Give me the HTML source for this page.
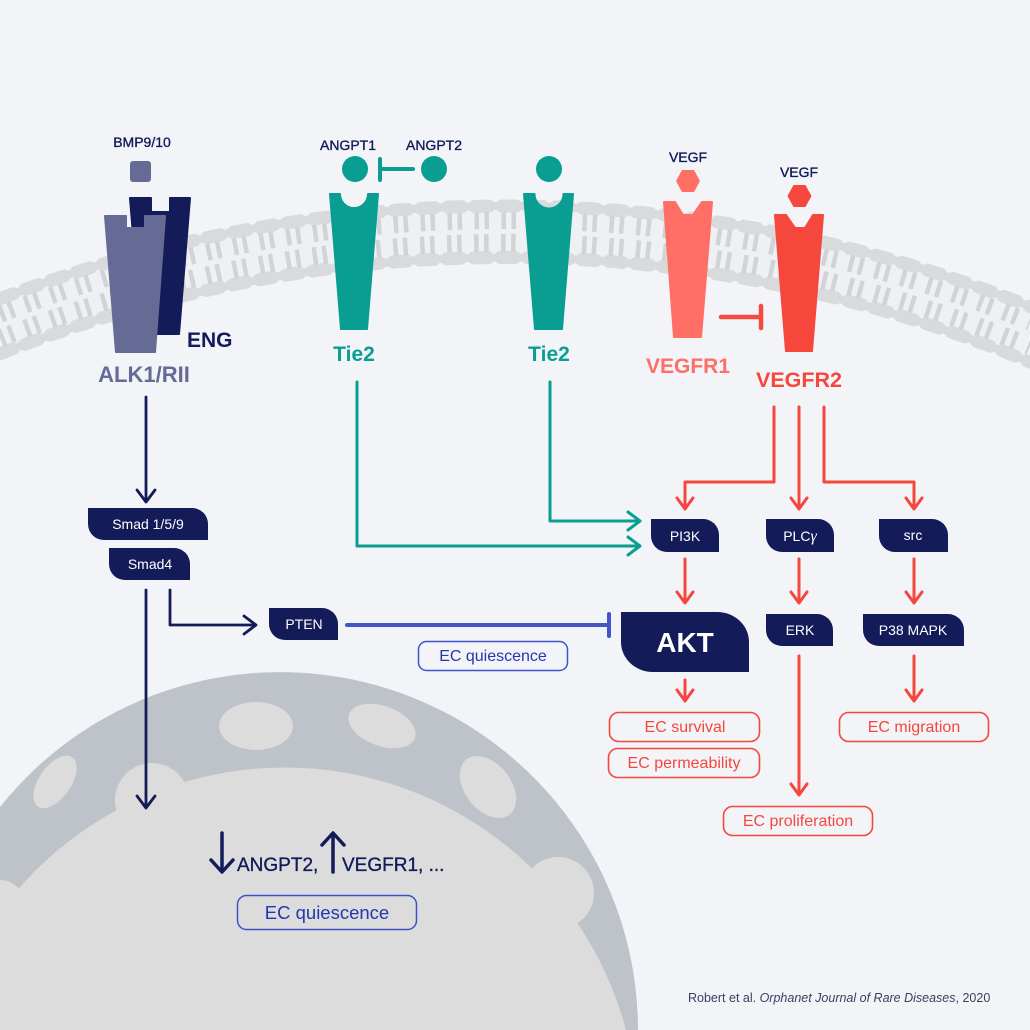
<!DOCTYPE html>
<html><head><meta charset="utf-8"><style>
html,body{margin:0;padding:0;background:#f2f4f8;width:1030px;height:1030px;overflow:hidden;}
svg{display:block;}
text{font-family:"Liberation Sans",Arial,sans-serif;}
</style></head><body>
<svg width="1030" height="1030" viewBox="0 0 1030 1030" xmlns="http://www.w3.org/2000/svg">
<rect width="1030" height="1030" fill="#f2f4f8"/>

<!-- nucleus -->
<path d="M0 1030 V807 A358 358 0 0 1 638 1030 Z" fill="#bec2c9"/>
<g fill="#dcdcdd">
<ellipse cx="256" cy="726" rx="37" ry="24"/>
<ellipse cx="382" cy="726" rx="35" ry="20" transform="rotate(20 382 726)"/>
<ellipse cx="488" cy="787" rx="35" ry="23" transform="rotate(52 488 787)"/>
<ellipse cx="55" cy="782" rx="30" ry="16" transform="rotate(-55 55 782)"/>
<path d="M0 1030 V912 A353 353 0 0 1 626 1030 Z"/>
<circle cx="152" cy="800" r="37"/>
<circle cx="558" cy="893" r="36"/>
<path d="M0 880 A25 25 0 0 1 0 930 Z"/>
</g>

<!-- membrane -->
<g fill="none">
<path d="M0 326.54 A1396 1396 0 0 1 1030 334.48" stroke="#eff0f3" stroke-width="52"/>
<path d="M0 298.69 A1422 1422 0 0 1 1030 306.46" stroke="#d9dadc" stroke-width="8"/>
<path d="M0 298.69 A1422 1422 0 0 1 1030 306.46" stroke="#d9dadc" stroke-width="13" stroke-linecap="round" stroke-dasharray="14 13"/>
<path d="M0 353.94 A1370.5 1370.5 0 0 1 1030 362.04" stroke="#d9dadc" stroke-width="8"/>
<path d="M0 353.94 A1370.5 1370.5 0 0 1 1030 362.04" stroke="#d9dadc" stroke-width="13" stroke-linecap="round" stroke-dasharray="14 13"/>
<path d="M0 314.21 A1407.5 1407.5 0 0 1 1030 322.08" stroke="#d2d3d6" stroke-width="17" stroke-dasharray="4.5 5.5 4.5 12.5"/>
<path d="M0 338.35 A1385 1385 0 0 1 1030 346.36" stroke="#d2d3d6" stroke-width="18" stroke-dasharray="4.5 5.5 4.5 12.5"/>
</g>

<!-- ALK1 / ENG -->
<rect x="130" y="161" width="21" height="21" rx="3" fill="#666b96"/>
<path d="M130 198 H151 V212 H170 V198 H190 L179 334 H141 Z" fill="#131b59" stroke="#131b59" stroke-width="2" stroke-linejoin="round"/>
<path d="M105 216 H126 V228 H145 V216 H165 L155 352 H116 Z" fill="#666b96" stroke="#666b96" stroke-width="2" stroke-linejoin="round"/>

<!-- Tie2 -->
<circle cx="355" cy="169" r="13" fill="#0a9e93"/>
<circle cx="434" cy="169" r="13" fill="#0a9e93"/>
<circle cx="549" cy="169" r="13" fill="#0a9e93"/>
<path d="M413 169 H381 M380 159 V180" stroke="#0a9e93" stroke-width="4" stroke-linecap="round" fill="none"/>
<path d="M330 194 H340 A14 14 0 0 0 368 194 H378 L367 329 H341 Z" fill="#0a9e93" stroke="#0a9e93" stroke-width="2" stroke-linejoin="round"/>
<path d="M524 194 H534.5 A14.5 14.5 0 0 0 563.5 194 H573 L562 329 H535 Z" fill="#0a9e93" stroke="#0a9e93" stroke-width="2" stroke-linejoin="round"/>

<!-- VEGFR -->
<polygon points="676,181 682,170 694,170 700,181 694,192 682,192" fill="#ff6f66"/>
<polygon points="787.5,196 793.5,185 805.5,185 811.5,196 805.5,207 793.5,207" fill="#f6473d"/>
<path d="M664 202 H675 L683 215 H693 L702 202 H712 L701 337 H674 Z" fill="#ff6f66" stroke="#ff6f66" stroke-width="2" stroke-linejoin="round"/>
<path d="M775 215 H786 L795 228 H805 L813 215 H823 L812 351 H786 Z" fill="#f6473d" stroke="#f6473d" stroke-width="2" stroke-linejoin="round"/>
<path d="M721 317 H760 M761 306 V328" stroke="#f44a40" stroke-width="4.5" stroke-linecap="round" fill="none"/>

<!-- labels top -->
<g fill="#131b59" stroke="#131b59" stroke-width="0.35" font-size="14" text-anchor="middle">
<text x="142" y="147">BMP9/10</text>
<text x="348" y="150">ANGPT1</text>
<text x="434" y="150">ANGPT2</text>
<text x="688" y="162">VEGF</text>
<text x="799" y="177">VEGF</text>
</g>
<text x="187" y="347" font-size="21" font-weight="bold" fill="#131b59">ENG</text>
<text x="144" y="382" font-size="22" font-weight="bold" fill="#666b96" text-anchor="middle">ALK1/RII</text>
<text x="354" y="361" font-size="21" font-weight="bold" fill="#0a9e93" text-anchor="middle">Tie2</text>
<text x="549" y="361" font-size="21" font-weight="bold" fill="#0a9e93" text-anchor="middle">Tie2</text>
<text x="688" y="373" font-size="21" font-weight="bold" fill="#ff6f66" text-anchor="middle">VEGFR1</text>
<text x="799" y="387" font-size="21.5" font-weight="bold" fill="#f6473d" text-anchor="middle">VEGFR2</text>

<!-- navy connectors -->
<g fill="none" stroke="#131b59" stroke-width="2.8" stroke-linecap="round" stroke-linejoin="round">
<path d="M146 397 V501"/><path d="M137 490 L146 502 L155 490"/>
<path d="M146 590 V807"/><path d="M137 796 L146 808 L155 796"/>
<path d="M170 590 V625 H255"/><path d="M244 616 L256 625 L244 634"/>
</g>

<!-- teal connectors -->
<g fill="none" stroke="#0a9e93" stroke-width="3" stroke-linecap="round" stroke-linejoin="round">
<path d="M357 382 V546 H639"/><path d="M628 537 L640 546 L628 555"/>
<path d="M550 382 V521 H639"/><path d="M628 512 L640 521 L628 530"/>
</g>

<!-- red connectors -->
<g fill="none" stroke="#f5473d" stroke-width="3" stroke-linecap="round" stroke-linejoin="round">
<path d="M774 407 V482 H685 V508"/><path d="M677 498 L685 509 L693 498"/>
<path d="M799 407 V508"/><path d="M791 498 L799 509 L807 498"/>
<path d="M824 407 V482 H914 V508"/><path d="M906 498 L914 509 L922 498"/>
<path d="M685 559 V602"/><path d="M677 592 L685 603 L693 592"/>
<path d="M799 559 V602"/><path d="M791 592 L799 603 L807 592"/>
<path d="M914 559 V602"/><path d="M906 592 L914 603 L922 592"/>
<path d="M685 680 V700"/><path d="M677 690 L685 701 L693 690"/>
<path d="M799 656 V794"/><path d="M791 784 L799 795 L807 784"/>
<path d="M914 656 V700"/><path d="M906 690 L914 701 L922 690"/>
</g>

<!-- PTEN inhibition -->
<path d="M347 625 H607 M609 614 V636" fill="none" stroke="#4356c6" stroke-width="4" stroke-linecap="round"/>

<!-- navy boxes -->
<g fill="#131b59">
<path d="M88 508 H192 A16 16 0 0 1 208 524 V540 H104 A16 16 0 0 1 88 524 Z"/>
<path d="M109 548 H174 A16 16 0 0 1 190 564 V580 H125 A16 16 0 0 1 109 564 Z"/>
<path d="M269 608 H322 A16 16 0 0 1 338 624 V640 H285 A16 16 0 0 1 269 624 Z"/>
<path d="M651 519 H703 A16 16 0 0 1 719 535 V552 H667 A16 16 0 0 1 651 536 Z"/>
<path d="M766 519 H818 A16 16 0 0 1 834 535 V552 H782 A16 16 0 0 1 766 536 Z"/>
<path d="M879 519 H932 A16 16 0 0 1 948 535 V552 H895 A16 16 0 0 1 879 536 Z"/>
<path d="M621 612 H717 A32 30 0 0 1 749 642 V672 H653 A32 30 0 0 1 621 642 Z"/>
<path d="M766 614 H817 A16 16 0 0 1 833 630 V646 H782 A16 16 0 0 1 766 630 Z"/>
<path d="M863 614 H948 A16 16 0 0 1 964 630 V646 H879 A16 16 0 0 1 863 630 Z"/>
</g>
<g fill="#ffffff" font-size="14" text-anchor="middle">
<text x="148" y="529">Smad 1/5/9</text>
<text x="150" y="569">Smad4</text>
<text x="304" y="629">PTEN</text>
<text x="685" y="541">PI3K</text>
<text x="800" y="541">PLC<tspan font-family="Liberation Serif, serif" font-style="italic" font-size="16">γ</tspan></text>
<text x="913" y="540">src</text>
<text x="800" y="635">ERK</text>
<text x="913" y="635">P38 MAPK</text>
<text x="685" y="652" font-size="28" font-weight="bold">AKT</text>
</g>

<!-- blue outcome boxes -->
<rect x="418.5" y="641.5" width="149" height="29" rx="8" fill="none" stroke="#3f51c6" stroke-width="1.5"/>
<text x="493" y="661" font-size="16" fill="#2436b0" text-anchor="middle">EC quiescence</text>
<rect x="237.5" y="895.5" width="179" height="34" rx="9" fill="none" stroke="#3f51c6" stroke-width="1.5"/>
<text x="327" y="919" font-size="18.5" fill="#2436b0" text-anchor="middle">EC quiescence</text>

<!-- red outcome boxes -->
<g fill="none" stroke="#f5473d" stroke-width="1.6">
<rect x="609.5" y="712.5" width="150" height="29" rx="9"/>
<rect x="608.5" y="748.5" width="151" height="29" rx="9"/>
<rect x="839.5" y="712.5" width="149" height="29" rx="9"/>
<rect x="723.5" y="806.5" width="149" height="29" rx="9"/>
</g>
<g fill="#f5473d" font-size="16" text-anchor="middle">
<text x="685" y="732">EC survival</text>
<text x="684" y="768">EC permeability</text>
<text x="914" y="732">EC migration</text>
<text x="798" y="826">EC proliferation</text>
</g>

<!-- nucleus text -->
<g fill="none" stroke="#131b59" stroke-width="3.5" stroke-linecap="round" stroke-linejoin="round">
<path d="M222 833 V871"/><path d="M211 860 L222 872 L233 860"/>
<path d="M333 834 V872"/><path d="M322 845 L333 833 L344 845"/>
</g>
<g fill="#131b59" stroke="#131b59" stroke-width="0.35" font-size="19">
<text x="237" y="871">ANGPT2,</text>
<text x="342" y="871">VEGFR1, ...</text>
</g>

<!-- citation -->
<text x="688" y="1002" font-size="12.5" fill="#3b3f5e">Robert et al. <tspan font-style="italic">Orphanet Journal of Rare Diseases</tspan>, 2020</text>
</svg>
</body></html>
